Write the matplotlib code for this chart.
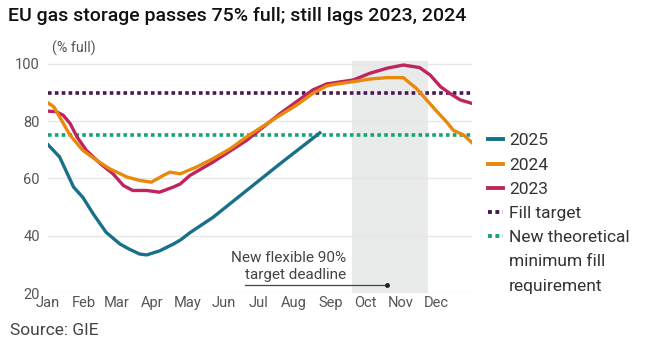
import matplotlib
matplotlib.use("Agg")
import matplotlib.pyplot as plt
from matplotlib.lines import Line2D

plt.rcParams['font.family'] = ['Roboto', 'DejaVu Sans']

# day of year (0 = Jan 1) and storage level (% full)
days_2025 = [0, 10, 22, 30, 39, 50, 62, 70, 79, 85, 96, 108, 114, 122, 142, 171, 200, 234]
fill_2025 = [71.8, 67.5, 57.0, 53.4, 47.6, 41.2, 37.1, 35.3, 33.6, 33.3, 34.7, 37.1, 38.5, 41.0, 46.4, 55.8, 65.2, 75.9]

days_2024 = [0, 5, 10, 19, 30, 42, 53, 68, 79, 89, 99, 105, 114, 122, 128, 142, 157, 171, 185,
             200, 214, 228, 240, 248, 263, 277, 292, 306, 310, 317, 326, 335, 343, 349, 358, 365]
fill_2024 = [86.4, 85.0, 81.5, 75.1, 69.8, 66.3, 63.4, 60.5, 59.3, 58.7, 61.0, 62.2, 61.6, 63.0, 64.0,
             66.9, 70.4, 74.5, 78.2, 82.1, 85.6, 89.7, 92.3, 92.9, 93.8, 94.7, 95.2, 95.2, 93.8,
             91.5, 87.4, 83.3, 79.8, 76.8, 75.1, 72.5]

days_2023 = [0, 7, 13, 19, 25, 33, 45, 56, 65, 73, 85, 96, 108, 114, 122, 142, 171, 200, 228,
             240, 263, 277, 292, 306, 320, 329, 338, 346, 355, 365]
fill_2023 = [83.5, 83.3, 82.1, 79.2, 74.5, 69.8, 65.2, 61.6, 57.5, 55.8, 55.8, 55.2, 57.0, 58.1,
             61.0, 65.7, 73.3, 82.7, 90.9, 93.0, 94.4, 96.7, 98.5, 99.6, 98.7, 96.1, 92.0, 89.7,
             87.4, 86.2]

fill_target = 90
min_requirement = 75
deadline_window = (262, 327)
deadline_arrow = (170, 292, 22.8)

month_starts = [0, 31, 59, 90, 120, 151, 181, 212, 243, 273, 304, 334]
month_labels = ['Jan', 'Feb', 'Mar', 'Apr', 'May', 'Jun', 'Jul', 'Aug', 'Sep', 'Oct', 'Nov', 'Dec']
y_ticks = [20, 40, 60, 80, 100]

c2025 = '#18708a'
c2024 = '#e8890c'
c2023 = '#c0245e'
c_target = '#4a1650'
c_min = '#16a37a'
dots = (0, (1, 0.9))

fig = plt.figure(figsize=(6.61, 3.48), dpi=100)
ax = fig.add_axes([0.0726, 0.158, 0.6414, 0.6667])

ax.axvspan(*deadline_window, color='#e9ebeb', lw=0, zorder=0)
for v in y_ticks:
    ax.axhline(v, color='#e6e6e6', lw=1, zorder=1)

ax.axhline(fill_target, color=c_target, lw=2.6, ls=dots, zorder=2)
ax.axhline(min_requirement, color=c_min, lw=2.6, ls=dots, zorder=2)

ax.plot(days_2023, fill_2023, color=c2023, lw=2.4, zorder=3)
ax.plot(days_2024, fill_2024, color=c2024, lw=2.4, zorder=4)
ax.plot(days_2025, fill_2025, color=c2025, lw=2.4, zorder=5)

x0, x1, ya = deadline_arrow
ax.plot([x0, x1], [ya, ya], color='#444444', lw=0.9, zorder=6)
ax.plot([x1], [ya], 'o', color='#222222', ms=2.5, zorder=6)
ax.text(256.5, 29.3, 'New flexible 90%\ntarget deadline', ha='right', va='center',
        fontsize=11, color='#444444', linespacing=1.3)

ax.set_xlim(0, 365)
ax.set_ylim(20, 101)
ax.set_xticks(month_starts)
ax.set_xticklabels(month_labels)
ax.set_yticks(y_ticks)
ax.tick_params(length=0, labelsize=10.5, colors='#555555')
ax.tick_params(axis='x', pad=2)
ax.tick_params(axis='y', pad=6)
for s in ax.spines.values():
    s.set_visible(False)

fig.text(0.012, 0.955, 'EU gas storage passes 75% full; still lags 2023, 2024',
         fontsize=14, fontweight='medium', color='#111111', va='center')
fig.text(0.079, 0.862, '(% full)', fontsize=10.3, color='#555555', va='center')
fig.text(0.015, 0.05, 'Source: GIE', fontsize=12.5, color='#444444', va='center')

# legend drawn by hand so the handle sits on the first text line
entries = [('2025', c2025, '-'), ('2024', c2024, '-'), ('2023', c2023, '-'),
           ('Fill target', c_target, dots),
           ('New theoretical\nminimum fill\nrequirement', c_min, dots)]
H = 348.0
W = 661.0
row = 0
for label, color, ls in entries:
    yc = 1 - (139.3 + 24.2 * row) / H
    fig.add_artist(Line2D([488 / W, 503 / W], [yc, yc], color=color, lw=2.8, ls=ls))
    for line in label.split('\n'):
        yl = 1 - (139.3 + 24.2 * row) / H
        fig.text(509 / W, yl, line, fontsize=12.5, color='#333333', va='center_baseline')
        row += 1

fig.savefig('out.png', dpi=100)
